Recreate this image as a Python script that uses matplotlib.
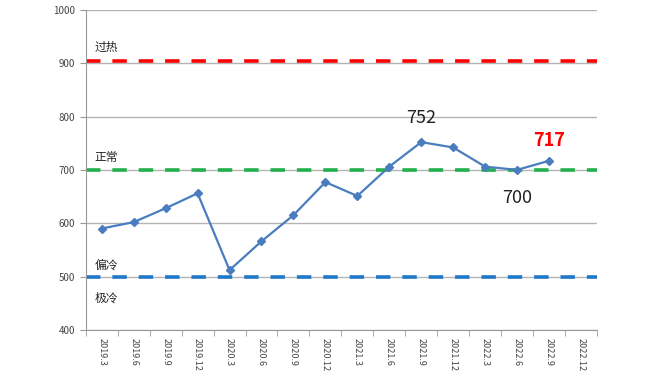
import matplotlib
matplotlib.use('Agg')
import matplotlib.pyplot as plt
import numpy as np

plt.rcParams['font.family'] = ['Noto Sans CJK SC', 'DejaVu Sans']

quarters = ['2019.3', '2019.6', '2019.9', '2019.12',
            '2020.3', '2020.6', '2020.9', '2020.12',
            '2021.3', '2021.6', '2021.9', '2021.12',
            '2022.3', '2022.6', '2022.9', '2022.12']
values = [590, 602, 628, 656, 512, 566, 615, 677, 651, 706, 752, 742, 706, 700, 717]

hot_level = 905
normal_level = 700
cold_level = 500
level_labels = ['过热', '正常', '偏冷', '极冷']
level_label_y = [930, 723, 522, 460]

x = np.arange(len(quarters))

fig = plt.figure(figsize=(6.7, 3.8), dpi=100)
ax = fig.add_axes([0.128, 0.132, 0.763, 0.842])

ax.set_ylim(400, 1000)
ax.set_xlim(-0.5, len(quarters) - 0.5)
ax.set_yticks(np.arange(400, 1001, 100))
ax.yaxis.grid(True, color='#b4b4b4', linewidth=1.0)
ax.set_axisbelow(True)

ax.axhline(hot_level, color='#ff0000', linewidth=2.6, dashes=(4, 3.3))
ax.axhline(normal_level, color='#22b04c', linewidth=2.6, dashes=(4, 3.3))
ax.axhline(cold_level, color='#1f78c8', linewidth=2.6, dashes=(4, 3.3))

ax.plot(x[:len(values)], values, color='#4a7dbf', linewidth=1.6,
        marker='D', markersize=4.5, zorder=5)

for lbl, ly in zip(level_labels, level_label_y):
    ax.text(0.15, ly, lbl, fontsize=8.5, color='#222222', va='center', ha='center')

ax.annotate(str(values[10]), (x[10], values[10]), xytext=(0, 11), textcoords='offset points',
            ha='center', va='bottom', fontsize=13, color='#222222')
ax.annotate(str(values[13]), (x[13], values[13]), xytext=(0, -14), textcoords='offset points',
            ha='center', va='top', fontsize=13, color='#222222')
ax.annotate(str(values[14]), (x[14], values[14]), xytext=(0, 8), textcoords='offset points',
            ha='center', va='bottom', fontsize=13, color='#ff0000', fontweight='bold')

ax.set_xticks(x)
ax.set_xticklabels(quarters, rotation=270, fontsize=6.5, color='#444444')
ax.set_xticks(np.arange(-0.5, len(quarters), 1), minor=True)
ax.tick_params(axis='x', which='major', length=0, pad=6)
ax.tick_params(axis='x', which='minor', length=4, color='#999999')
ax.tick_params(axis='y', length=4, color='#999999', labelsize=7, labelcolor='#444444')

for s in ['top', 'right']:
    ax.spines[s].set_visible(False)
for s in ['left', 'bottom']:
    ax.spines[s].set_color('#999999')

fig.savefig('out.png', dpi=100)
